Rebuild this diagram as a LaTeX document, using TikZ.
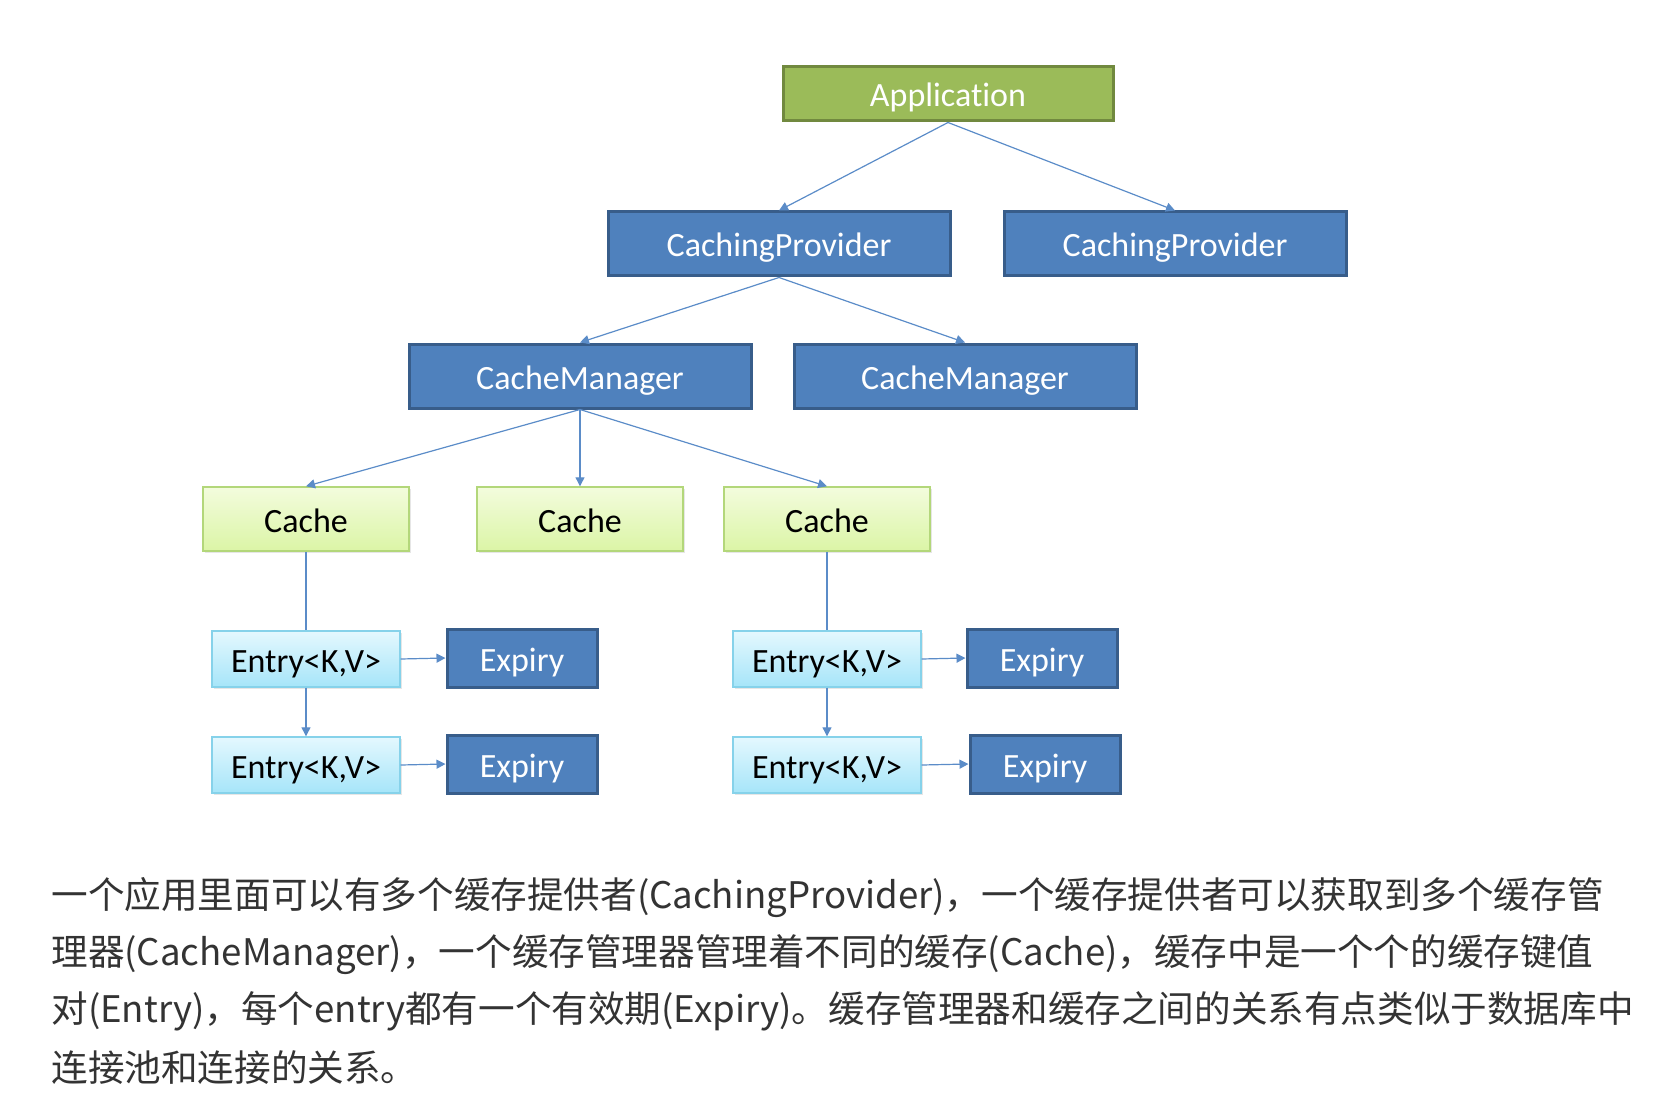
\documentclass[tikz,border=0pt]{standalone}
\usepackage{fontspec}
\setmainfont{Carlito}[Ligatures=NoCommon]
\newfontfamily\cjk{Noto Sans CJK SC}
\usetikzlibrary{arrows.meta,shadows}
\definecolor{appfill}{HTML}{9BBB59}
\definecolor{appline}{HTML}{71893F}
\definecolor{bluefill}{HTML}{4F81BD}
\definecolor{blueline}{HTML}{385D8A}
\definecolor{cachetop}{HTML}{F3FCDD}
\definecolor{cachebot}{HTML}{DBF5A6}
\definecolor{cacheline}{HTML}{B3D77A}
\definecolor{entrytop}{HTML}{E4F8FE}
\definecolor{entrybot}{HTML}{A6E5F9}
\definecolor{entryline}{HTML}{86D2EA}
\definecolor{connline}{HTML}{5B8CC8}
\definecolor{captext}{HTML}{333333}
\tikzset{
  boxtext/.style={text height=14pt,text depth=1pt},
  appbox/.style={boxtext,draw=appline,line width=1.5pt,fill=appfill,text=white,minimum width=165pt,minimum height=27pt},
  bluebox/.style={boxtext,draw=blueline,line width=1.5pt,fill=bluefill,text=white,minimum width=171pt,minimum height=32pt},
  cachebox/.style={boxtext,draw=cacheline,line width=0.7pt,top color=cachetop,bottom color=cachebot,minimum width=103pt,minimum height=32pt,
    drop shadow={opacity=0.2,shadow xshift=1pt,shadow yshift=-1.2pt}},
  entrybox/.style={boxtext,draw=entryline,line width=0.7pt,top color=entrytop,bottom color=entrybot,minimum width=94pt,minimum height=28pt,
    drop shadow={opacity=0.2,shadow xshift=1pt,shadow yshift=-1.2pt}},
  expirybox/.style={boxtext,draw=blueline,line width=1.5pt,fill=bluefill,text=white,minimum width=75pt,minimum height=29pt},
  conn/.style={draw=connline,line width=0.6pt,-{Triangle[width=4.5pt,length=4.5pt]}},
  plainconn/.style={draw=connline,line width=0.6pt},
  textline/.style={anchor=west,inner sep=0pt,font=\cjk\fontsize{18.3pt}{22pt}\selectfont,text=captext}
}
\begin{document}
\begin{tikzpicture}[x=0.5pt,y=-0.5pt,font=\fontsize{17pt}{20pt}\selectfont]
\useasboundingbox (0,0) rectangle (1673,1112);
% tree
\node[appbox] (app) at (948,94) {Application};
\node[bluebox] (cp1) at (779,244) {CachingProvider};
\node[bluebox] (cp2) at (1175,244) {CachingProvider};
\node[bluebox] (cm1) at (580,376) {CacheManager};
\node[bluebox] (cm2) at (965,376) {CacheManager};
\node[cachebox] (cache1) at (306,519) {Cache};
\node[cachebox] (cache2) at (580,519) {Cache};
\node[cachebox] (cache3) at (827,519) {Cache};
% entries and expiries
\node[entrybox] (entry1) at (306,659) {Entry<K,V>};
\node[entrybox] (entry2) at (306,765) {Entry<K,V>};
\node[entrybox] (entry3) at (827,659) {Entry<K,V>};
\node[entrybox] (entry4) at (827,765) {Entry<K,V>};
\node[expirybox] (exp1) at (522,658) {Expiry};
\node[expirybox] (exp2) at (522,764) {Expiry};
\node[expirybox] (exp3) at (1042,658) {Expiry};
\node[expirybox] (exp4) at (1045,764) {Expiry};
% connectors
\draw[conn] (app.south) -- (cp1.north);
\draw[conn] (app.south) -- (cp2.north);
\draw[conn] (cp1.south) -- (cm1.north);
\draw[conn] (cp1.south) -- (cm2.north);
\draw[conn] (cm1.south) -- (cache1.north);
\draw[conn] (cm1.south) -- (cache2.north);
\draw[conn] (cm1.south) -- (cache3.north);
\draw[plainconn] (cache1.south) -- (entry1.north);
\draw[plainconn] (cache3.south) -- (entry3.north);
\draw[conn] (entry1.south) -- (entry2.north);
\draw[conn] (entry3.south) -- (entry4.north);
\draw[conn] (entry1.east) -- (exp1.west);
\draw[conn] (entry2.east) -- (exp2.west);
\draw[conn] (entry3.east) -- (exp3.west);
\draw[conn] (entry4.east) -- (exp4.west);
% caption
\node[textline] (line1) at (51,898) {一个应用里面可以有多个缓存提供者(CachingProvider)，一个缓存提供者可以获取到多个缓存管};
\node[textline] (line2) at (51,955) {理器(CacheManager)，一个缓存管理器管理着不同的缓存(Cache)，缓存中是一个个的缓存键值};
\node[textline] (line3) at (51,1011) {对(Entry)，每个entry都有一个有效期(Expiry)。缓存管理器和缓存之间的关系有点类似于数据库中};
\node[textline] (line4) at (51,1068) {连接池和连接的关系。};
\end{tikzpicture}
\end{document}
